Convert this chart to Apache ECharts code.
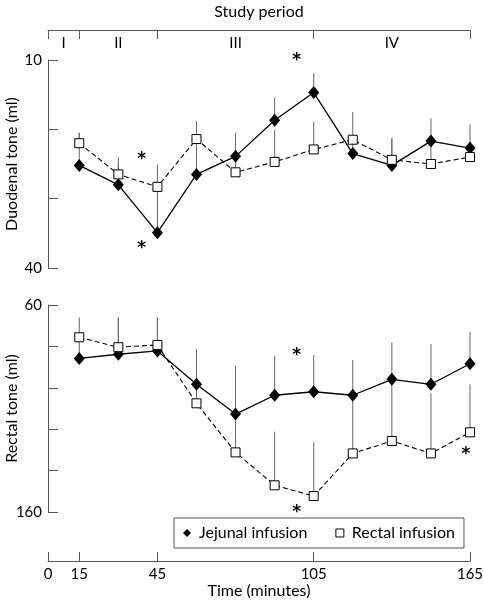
<!DOCTYPE html>
<html><head><meta charset="utf-8">
<script src="https://cdn.jsdelivr.net/npm/echarts@6/dist/echarts.min.js"></script>
<style>html,body{margin:0;padding:0;background:#fff}#c{width:484px;height:608px}</style>
</head><body><div id="c"></div>
<script>
// ---- data ----
const times = [15, 30, 45, 60, 75, 90, 105, 120, 135, 150, 165];
// Duodenal tone (ml)
const duoJejunal   = [25.2, 28.0, 34.9, 26.5, 23.9, 18.7, 14.7, 23.5, 25.2, 21.7, 22.7];
const duoJejunalSE = [4.7, 3.0, 6.6, 5.1, 3.4, 3.3, 2.8, 2.0, 3.9, 3.3, 3.4];
const duoRectal    = [22.0, 26.5, 28.3, 21.4, 26.2, 24.7, 22.9, 21.5, 24.4, 25.0, 24.0];
const duoRectalSE  = [1.5, 2.5, 3.2, 2.6, 2.3, 4.6, 4.0, 4.0, 3.1, 3.2, 1.3];
// Rectal tone (ml)
const recJejunal   = [85.8, 83.8, 82.2, 98.3, 112.7, 103.6, 101.9, 103.6, 95.9, 98.3, 88.4];
const recJejunalSE = [10.2, 17.8, 16.2, 17.0, 23.4, 19.1, 17.7, 17.0, 17.9, 19.5, 15.4];
const recRectal    = [75.6, 80.4, 79.3, 107.5, 131.2, 147.1, 152.3, 131.7, 125.7, 131.7, 121.5];
const recRectalSE  = [9.6, 14.4, 13.3, 9.2, 18.5, 25.9, 26.0, 28.1, 29.8, 29.0, 23.2];
// significance markers [time, value]
const duoStars = [[39, 23.7], [39, 36.5], [98.5, 9.4]];
const recStars = [[98.5, 82.2], [98.5, 158], [163.4, 129.7]];
// axes
const xTickValues = [3, 15, 45, 105, 165];
const xTickLabels = ['0', '15', '45', '105', '165'];
const periodLabels = ['I', 'II', 'III', 'IV'];
const duoYLabels = [10, 40];
const recYLabels = [60, 160];

const FONT = 'Lato, DejaVu Sans, sans-serif';
const periodMid = periodLabels.map((_, i) => (xTickValues[i] + xTickValues[i + 1]) / 2);

const chart = echarts.init(document.getElementById('c'), null, {renderer: 'canvas'});

function errSeries(xi, yi, vals, se) {
  return {
    type: 'custom', xAxisIndex: xi, yAxisIndex: yi, silent: true, z: 1,
    data: times.map((t, i) => [t, vals[i], vals[i] - se[i]]),
    renderItem(params, api) {
      const p1 = api.coord([api.value(0), api.value(1)]);
      const p2 = api.coord([api.value(0), api.value(2)]);
      return {type: 'line', shape: {x1: p1[0], y1: p1[1], x2: p2[0], y2: p2[1]},
        style: {stroke: '#666', lineWidth: 1}};
    }
  };
}
function starSeries(xi, yi, pts) {
  return {
    type: 'custom', xAxisIndex: xi, yAxisIndex: yi, silent: true, z: 5,
    data: pts,
    renderItem(params, api) {
      const p = api.coord([api.value(0), api.value(1)]);
      return {type: 'text', x: p[0], y: p[1] + 5,
        style: {text: '*', fontSize: 17, fontFamily: 'DejaVu Sans', fontWeight: 'bold', fill: '#000', align: 'center', verticalAlign: 'middle'}};
    }
  };
}
function jejSeries(xi, yi, vals) {
  return {name: 'Jejunal infusion', type: 'line', xAxisIndex: xi, yAxisIndex: yi,
    data: times.map((t, i) => [t, vals[i]]), symbol: 'diamond', symbolSize: [11, 13],
    showAllSymbol: true, itemStyle: {color: '#000'}, lineStyle: {color: '#000', width: 1.3}, z: 3};
}
function recSeries(xi, yi, vals) {
  return {name: 'Rectal infusion', type: 'line', xAxisIndex: xi, yAxisIndex: yi,
    data: times.map((t, i) => [t, vals[i]]), symbol: 'rect', symbolSize: 9,
    showAllSymbol: true, itemStyle: {color: '#fff', borderColor: '#000', borderWidth: 1},
    lineStyle: {color: '#000', width: 1.1, type: [5, 3]}, z: 4};
}

const axisLineStyle = {show: true, lineStyle: {color: '#555', width: 1}};
const labelStyle = {fontSize: 15, fontFamily: FONT, color: '#000'};
const nameStyle = {fontSize: 16, fontFamily: FONT, color: '#000'};

chart.setOption({
  animation: false,
  grid: [
    {left: 48, width: 422, top: 60, height: 208, outerBoundsMode: 'none', containLabel: false},
    {left: 48, width: 422, top: 305, height: 207, outerBoundsMode: 'none', containLabel: false}
  ],
  xAxis: [
    {gridIndex: 0, type: 'value', min: 3, max: 165, position: 'top', offset: 30,
      axisLine: axisLineStyle, splitLine: {show: false},
      axisTick: {show: true, inside: true, length: 9, customValues: xTickValues, lineStyle: {color: '#555'}},
      axisLabel: Object.assign({inside: true, margin: 6, customValues: periodMid,
        formatter: v => periodLabels[periodMid.indexOf(v)]}, labelStyle),
      name: 'Study period', nameLocation: 'middle', nameGap: 10, nameMoveOverlap: false, nameTextStyle: nameStyle},
    {gridIndex: 1, type: 'value', min: 3, max: 165, position: 'bottom', offset: 49,
      axisLine: axisLineStyle, splitLine: {show: false},
      axisTick: {show: true, inside: true, length: 9, customValues: xTickValues, lineStyle: {color: '#555'}},
      axisLabel: Object.assign({margin: 6, customValues: xTickValues,
        formatter: v => xTickLabels[xTickValues.indexOf(v)]}, labelStyle),
      name: 'Time (minutes)', nameLocation: 'middle', nameGap: 22, nameMoveOverlap: false, nameTextStyle: nameStyle}
  ],
  yAxis: [
    {gridIndex: 0, type: 'value', inverse: true, min: 10, max: 40, interval: 10,
      axisLine: axisLineStyle, splitLine: {show: false},
      axisTick: {show: true, inside: true, length: 10, lineStyle: {color: '#555'}},
      axisLabel: Object.assign({margin: 6, customValues: duoYLabels}, labelStyle),
      name: 'Duodenal tone (ml)', nameLocation: 'middle', nameGap: 28, nameMoveOverlap: false, nameTextStyle: nameStyle},
    {gridIndex: 1, type: 'value', inverse: true, min: 60, max: 160, interval: 20,
      axisLine: axisLineStyle, splitLine: {show: false},
      axisTick: {show: true, inside: true, length: 10, lineStyle: {color: '#555'}},
      axisLabel: Object.assign({margin: 6, customValues: recYLabels}, labelStyle),
      name: 'Rectal tone (ml)', nameLocation: 'middle', nameGap: 28, nameMoveOverlap: false, nameTextStyle: nameStyle}
  ],
  legend: {
    data: [{name: 'Jejunal infusion', icon: 'diamond'}, {name: 'Rectal infusion', icon: 'rect'}],
    left: 174, top: 518, orient: 'horizontal',
    borderColor: '#555', borderWidth: 1, padding: [7, 9, 7, 9], itemGap: 28,
    itemWidth: 8, itemHeight: 8, itemStyle: {borderWidth: 1},
    textStyle: {fontSize: 16, fontFamily: FONT, color: '#000', padding: [2, 0, 0, 3]}
  },
  series: [
    errSeries(0, 0, duoJejunal, duoJejunalSE),
    errSeries(0, 0, duoRectal, duoRectalSE),
    errSeries(1, 1, recJejunal, recJejunalSE),
    errSeries(1, 1, recRectal, recRectalSE),
    jejSeries(0, 0, duoJejunal),
    recSeries(0, 0, duoRectal),
    jejSeries(1, 1, recJejunal),
    recSeries(1, 1, recRectal),
    starSeries(0, 0, duoStars),
    starSeries(1, 1, recStars)
  ]
});
</script></body></html>
